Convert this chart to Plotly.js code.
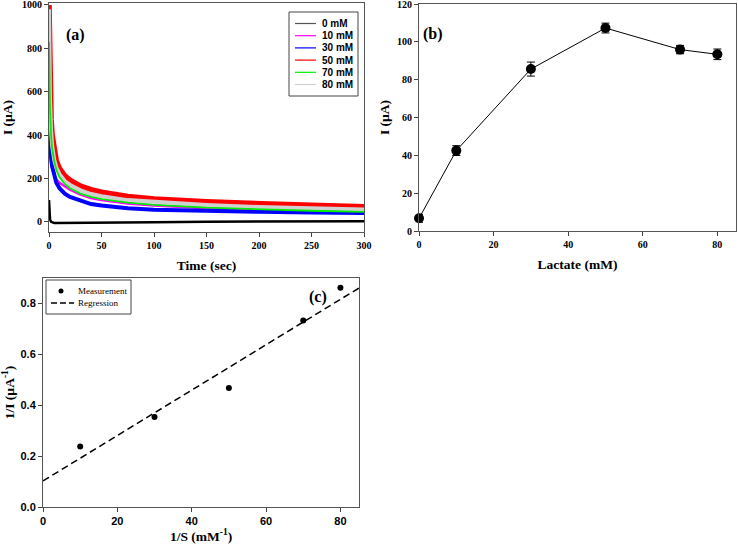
<!DOCTYPE html>
<html>
<head>
<meta charset="utf-8">
<script src="https://cdn.plot.ly/plotly-3.0.1.min.js"></script>
<style>html,body{margin:0;padding:0;background:#fff;}#chart{width:738px;height:549px;}</style>
</head>
<body>
<div id="chart"></div>
<script>
// ---------- Panel (a): chronoamperometry ----------
const timeSec = [0, 0.5, 1, 2, 3, 5, 7, 10, 15, 20, 30, 40, 50, 75, 100, 150, 200, 250, 300];
const seriesNames = ['0 mM', '10 mM', '30 mM', '50 mM', '70 mM', '80 mM'];
const current0mM  = [100, 30, 10, 0, -3, -5, -5, -5, -5, -5, -5, -4, -4, -3, -2, 0, 1, 2, 3];
const current10mM = [400, 340, 310, 270, 245, 215, 195, 180, 162, 148, 126, 110, 100, 84, 75, 62, 54, 49, 44];
const current30mM = [540, 440, 380, 300, 255, 210, 180, 155, 130, 115, 97, 82, 75, 63, 56, 50, 46, 43, 41];
const current50mM = [1000, 760, 620, 470, 400, 320, 280, 245, 212, 192, 165, 148, 137, 117, 105, 92, 82, 76, 70];
const current70mM = [830, 640, 520, 400, 340, 280, 240, 205, 175, 155, 130, 115, 105, 88, 78, 65, 57, 51, 46];
const current80mM = [980, 700, 560, 420, 350, 285, 250, 220, 188, 170, 145, 128, 118, 100, 92, 78, 68, 62, 57];

// ---------- Panel (b): current vs lactate ----------
const lactateMM = [0, 10, 30, 50, 70, 80];
const peakCurrent = [6.7, 42.5, 85.6, 107.3, 95.9, 93.4];
const peakCurrentErr = [2.1, 2.6, 3.7, 2.6, 2.2, 2.8];

// ---------- Panel (c): Lineweaver-Burk ----------
const invS = [10, 30, 50, 70, 80];
const invI = [0.238, 0.354, 0.468, 0.733, 0.862];
const regIntercept = 0.1025;
const regSlope = 0.00892;

// ---------- styles ----------
const W = 738, H = 549;
const px = x => x / W;
const py = y => 1 - y / H;
const colors = ['#000000', '#ff00ff', '#0000ff', '#ff0000', '#00ee00', '#d0d0d0'];
const widths = [2.5, 2.5, 4, 5.5, 1.8, 4];
const currents = [current0mM, current10mM, current30mM, current50mM, current70mM, current80mM];
const drawOrder = [0, 1, 2, 3, 5, 4];

const serif = '"Liberation Serif", "Times New Roman", serif';
const sans = '"Liberation Sans", Arial, sans-serif';

const traces = [];
drawOrder.forEach(i => {
  traces.push({
    x: timeSec, y: currents[i], type: 'scatter', mode: 'lines', name: seriesNames[i],
    line: {color: colors[i], width: widths[i]}, xaxis: 'x', yaxis: 'y', showlegend: false
  });
});

traces.push({
  x: lactateMM, y: peakCurrent, type: 'scatter', mode: 'lines+markers', name: 'I',
  line: {color: '#000', width: 1}, marker: {color: '#000', size: 10},
  error_y: {type: 'data', array: peakCurrentErr, visible: true, color: '#000', thickness: 1, width: 4},
  xaxis: 'x2', yaxis: 'y2', showlegend: false, cliponaxis: false
});

const cRange = [0, 85];
traces.push({
  x: cRange, y: cRange.map(v => regIntercept + regSlope * v), type: 'scatter', mode: 'lines',
  name: 'Regression', line: {color: '#000', width: 1.5, dash: '7px,4px'},
  xaxis: 'x3', yaxis: 'y3', showlegend: false
});
traces.push({
  x: invS, y: invI, type: 'scatter', mode: 'markers', name: 'Measurement',
  marker: {color: '#000', size: 6}, xaxis: 'x3', yaxis: 'y3', showlegend: false, cliponaxis: false
});

function axis(extra, tickFamily, tickSize) {
  return Object.assign({
    showgrid: false, zeroline: false, showline: true, mirror: true,
    linecolor: '#555', linewidth: 1, ticks: 'outside', ticklen: 4, tickcolor: '#444',
    tickfont: {family: tickFamily || serif, size: tickSize || 10, color: '#000', weight: 'bold'},
    automargin: false, ticklabeloverflow: 'allow'
  }, extra);
}
function ttl(text, standoff) {
  return {text: text, font: {family: serif, size: 13.5, color: '#000', weight: 'bold'}, standoff: standoff};
}

const shapes = [];
const annotations = [];

// panel labels
[['(a)', 64, 24], ['(b)', 433, 23], ['(c)', 318, 297]].forEach(p => {
  annotations.push({text: p[0], x: px(p[1]), y: py(p[2]), xref: 'paper', yref: 'paper',
    showarrow: false, font: {family: serif, size: 16, color: '#000', weight: 'bold'}});
});

// legend (a)
shapes.push({type: 'rect', xref: 'paper', yref: 'paper', x0: px(289), x1: px(358), y0: py(12), y1: py(96),
  line: {color: '#444', width: 1}, fillcolor: 'rgba(255,255,255,1)'});
seriesNames.forEach((n, i) => {
  const yy = 23.5 + i * 12.2;
  shapes.push({type: 'line', xref: 'paper', yref: 'paper', x0: px(295), x1: px(316), y0: py(yy), y1: py(yy),
    line: {color: i === 0 ? '#555' : colors[i], width: 1.2}});
  annotations.push({text: n, x: px(321), y: py(yy), xref: 'paper', yref: 'paper', xanchor: 'left', yanchor: 'middle',
    showarrow: false, borderpad: 0, font: {family: sans, size: 10, color: '#000', weight: 'bold'}});
});

// legend (c)
shapes.push({type: 'rect', xref: 'paper', yref: 'paper', x0: px(46), x1: px(131), y0: py(280), y1: py(314),
  line: {color: '#444', width: 1}, fillcolor: 'rgba(255,255,255,1)'});
shapes.push({type: 'circle', xref: 'paper', yref: 'paper', x0: px(58.5), x1: px(63.5), y0: py(288.5), y1: py(293.5),
  line: {color: '#000', width: 0}, fillcolor: '#000'});
shapes.push({type: 'line', xref: 'paper', yref: 'paper', x0: px(51), x1: px(74), y0: py(303), y1: py(303),
  line: {color: '#000', width: 1.5, dash: '6px,3px'}});
[['Measurement', 291], ['Regression', 303]].forEach(e => {
  annotations.push({text: e[0], x: px(77), y: py(e[1]), xref: 'paper', yref: 'paper', xanchor: 'left', yanchor: 'middle',
    showarrow: false, borderpad: 0, font: {family: serif, size: 9, color: '#000'}});
});

const layout = {
  width: W, height: H, margin: {l: 0, r: 0, t: 0, b: 0},
  paper_bgcolor: '#fff', plot_bgcolor: '#fff', showlegend: false,
  xaxis: axis({domain: [px(49), px(364)], range: [0, 300], tickvals: [0, 50, 100, 150, 200, 250, 300],
    title: ttl('Time (sec)', 10), anchor: 'y'}),
  yaxis: axis({domain: [py(232), py(3)], range: [-47, 1009], tickvals: [0, 200, 400, 600, 800, 1000],
    title: ttl('I (µA)', 9), anchor: 'x'}),
  xaxis2: axis({domain: [px(419), px(736)], range: [0, 85], tickvals: [0, 20, 40, 60, 80],
    title: ttl('Lactate (mM)', 10), anchor: 'y2'}),
  yaxis2: axis({domain: [py(231), py(4)], range: [0, 120], tickvals: [0, 20, 40, 60, 80, 100, 120],
    title: ttl('I (µA)', 4), anchor: 'x2'}),
  xaxis3: axis({domain: [px(43), px(359)], range: cRange, tickvals: [0, 20, 40, 60, 80],
    title: ttl('1/S (mM<sup>-1</sup>)', 1), anchor: 'y3'}, sans, 11),
  yaxis3: axis({domain: [py(507), py(278)], range: [0, 0.9], tickvals: [0, 0.2, 0.4, 0.6, 0.8], tickformat: '.1f',
    title: ttl('1/I (µA<sup>-1</sup>)', 6), anchor: 'x3'}, sans, 11),
  shapes: shapes, annotations: annotations
};

Plotly.newPlot('chart', traces, layout, {displayModeBar: false, staticPlot: true});
</script>
</body>
</html>
